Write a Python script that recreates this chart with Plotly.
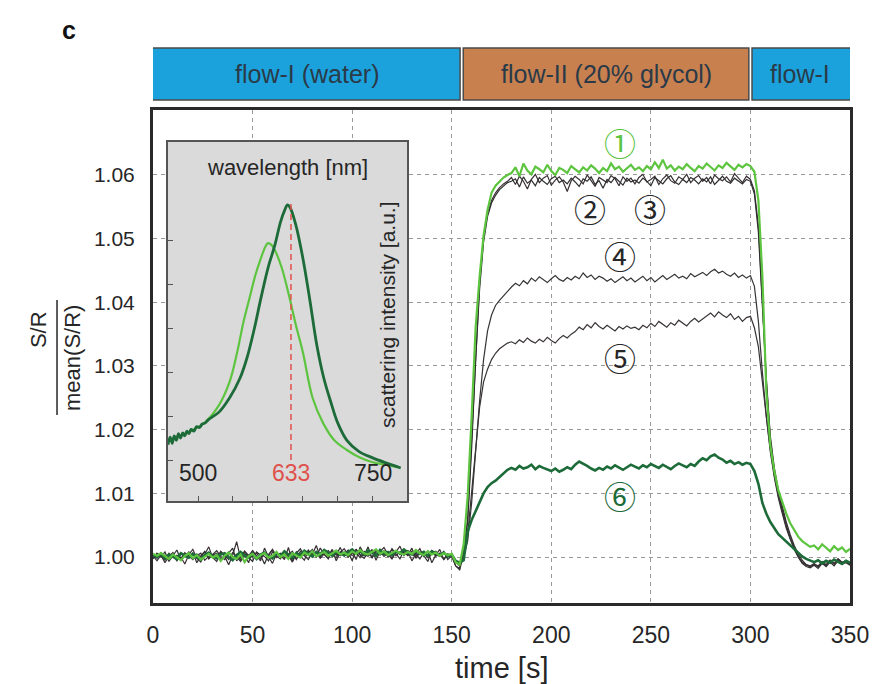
import plotly.graph_objects as go

# ---------------------------------------------------------------------------
# Time traces: normalised signal S/R / mean(S/R), sampled every 2 s.
# Each series is stored as (value - 1) x 1e4.
# ---------------------------------------------------------------------------
TIME_S = list(range(0, 352, 2))

SERIES_1 = [  # light green
    5, 2, 6, 1, -3, 4, 0, -5, 2, 6, -2, 3, -4, 1, 5, -1,
    3, -6, 2, 7, 0, -3, 4, -8, 1, 5, -2, 3, 6, -1, 2, 8,
    0, 4, -3, 6, 2, -1, 7, 3, 9, 1, 5, 8, 2, 6, 10, 4,
    7, 3, 9, 5, 11, 6, 4, 8, 12, 5, 9, 3, 7, 10, 6, 4,
    8, 5, 11, 6, 3, 9, 4, 7, 2, 6, 3, 5, -8, -12,
    20, 95, 220, 360, 440, 505, 545, 572, 583, 590, 596, 600,
    603, 612, 598, 618, 607, 601, 613, 609, 604, 616, 606, 600, 611, 608, 603, 614,
    609, 604, 612, 607, 615, 610, 603, 611, 606, 618, 609, 613, 605, 610, 616, 608,
    612, 606, 614, 609, 620, 611, 624, 610, 615, 607, 613, 609, 617, 611, 606, 614,
    610, 618, 612, 607, 615, 611, 619, 613, 608, 616, 612, 617, 614,
    605, 560, 440, 260, 175, 135, 105, 85, 68, 53, 42, 32, 25, 20, 16,
    18, 12, 20, 14, 9, 17, 11, 15, 8, 13,
]

SERIES_2 = [
    2, -6, 3, -9, 1, 7, -4, 0, -11, 4, 12, -2, -8, 3, 16, -1,
    -7, 8, 1, -12, 3, 24, -2, 4, -9, 10, 2, -6, 14, 0, -10, 5,
    3, -4, 15, -7, 8, 1, -5, 10, 4, 18, -1, 8, 2, 12, -6, 7,
    13, 3, 10, -4, 16, 5, 1, 12, -5, 9, 15, 4, -3, 8, 17, 2,
    9, -6, 5, 13, 0, 10, -9, 3, 12, -4, 4, 1, -14, -18,
    10, 60, 180, 320, 430, 500, 540, 560, 572, 580, 586, 590,
    596, 585, 598, 590, 578, 593, 601, 588, 595, 599, 584, 592, 597, 589, 574, 591,
    598, 593, 586, 600, 590, 582, 596, 592, 588, 599, 594, 583, 597, 590, 595, 586,
    596, 601, 589, 593, 598, 585, 594, 600, 591, 587, 597, 593, 601, 588, 595, 599,
    590, 596, 586, 600, 594, 591, 597, 589, 602, 595, 588, 598, 593,
    575, 520, 400, 280, 190, 140, 105, 80, 55, 35, 18, 5, -5, -12, -14,
    -10, -16, -8, -13, -5, -11, -3, -9, -6, -12,
]

SERIES_3 = [
    -3, 6, 0, 8, -7, 2, 11, -5, 3, -1, 7, -9, 2, 9, -3, 4,
    10, 1, -4, 6, 14, -6, 2, 9, -1, -7, 8, 3, -11, 4, 12, 1,
    -3, 9, 3, -8, 6, 13, 2, -4, 8, 0, 14, 4, -3, 10, 3, 15,
    1, 8, -6, 12, 4, 2, 16, -2, 9, 3, 10, 0, 13, 5, -3, 11,
    3, 14, -2, 7, 2, -7, 10, 4, 1, 9, -4, 2, -14, -20,
    5, 55, 170, 310, 420, 495, 535, 556, 568, 577, 583, 588,
    590, 594, 581, 597, 587, 592, 583, 596, 590, 585, 594, 598, 588, 592, 586, 595,
    589, 582, 594, 590, 597, 585, 591, 579, 593, 588, 596, 590, 584, 595, 589, 592,
    587, 595, 590, 583, 596, 591, 586, 594, 599, 589, 585, 593, 588, 596, 592, 586,
    594, 589, 597, 585, 592, 598, 590, 587, 595, 591, 586, 593, 590,
    570, 510, 395, 275, 185, 135, 100, 74, 50, 30, 14, 0, -10, -15, -17,
    -13, -18, -10, -15, -8, -14, -6, -11, -9, -13,
]

SERIES_4 = [
    4, -2, 7, 1, -4, 3, -6, 5, 0, 8, -3, 2, 6, -5, 1, 4,
    -2, 9, 3, -4, 7, 0, -7, 5, 2, 10, -3, 4, 1, -6, 8, 3,
    6, -1, 4, 9, -3, 5, 2, 11, 0, 7, -2, 5, 10, 3, -1, 8,
    4, 11, 2, 7, -1, 9, 5, 0, 12, 6, 3, 8, -2, 10, 4, 7,
    2, 9, 5, -3, 7, 3, 10, 1, 6, -4, 5, 2, -8, -14,
    0, 25, 85, 170, 245, 310, 355, 380, 395, 403, 410, 418,
    424, 430, 426, 434, 429, 438, 433, 440, 435, 431, 437, 442, 436, 433, 439, 435,
    441, 437, 446, 439, 443, 436, 441, 438, 433, 437, 431, 435, 440, 434, 438, 432,
    436, 441, 434, 439, 432, 437, 442, 436, 440, 444, 438, 441, 437, 445, 440, 443,
    447, 442, 448, 452, 446, 449, 444, 441, 446, 439, 443, 438, 442,
    425, 370, 290, 220, 168, 128, 96, 70, 48, 30, 14, 2, -8, -12, -15,
    -11, -14, -7, -12, -5, -10, -3, -8, -6, -10,
]

SERIES_5 = [
    -1, 5, 2, -5, 6, 0, 3, -3, 7, 1, -4, 5, 0, 8, -2, 3,
    6, -3, 2, 8, -1, 4, -5, 9, 3, 0, 7, -3, 5, 2, 11, -1,
    4, 8, 0, 5, -4, 9, 3, 6, 12, 1, 7, 4, -1, 10, 5, 2,
    8, 0, 6, 12, 3, -2, 7, 10, 4, 9, 1, 6, 11, 2, 8, 5,
    10, 4, 1, 8, 6, -1, 5, 9, 2, 7, 0, 3, -6, -10,
    5, 35, 100, 175, 235, 275, 295, 310, 320, 327, 332, 336,
    338, 335, 341, 337, 344, 339, 336, 342, 338, 345, 340, 336, 343, 348, 344, 350,
    354, 361, 357, 365, 360, 368, 362, 358, 364, 360, 355, 362, 358, 363, 359, 361,
    357, 364, 360, 367, 362, 370, 365, 361, 368, 364, 372, 367, 363, 370, 375, 369,
    374, 379, 383, 377, 385, 380, 376, 382, 373, 378, 370, 376, 378,
    360, 330, 275, 215, 165, 125, 93, 68, 45, 28, 12, 0, -9, -13, -15,
    -12, -15, -8, -13, -6, -11, -4, -9, -7, -11,
]

SERIES_6 = [  # dark green
    3, 0, 5, -2, 4, 1, -3, 6, 2, -1, 5, 0, -4, 3, 7, 1,
    -2, 4, 6, 0, -5, 3, 8, 2, -1, 5, -3, 4, 7, 1, -2, 6,
    2, 9, 4, -1, 6, 3, 10, 5, 1, 8, 4, 11, 6, 2, 9, 5,
    3, 8, 12, 6, 9, 4, 10, 7, 2, 11, 5, 8, 3, 9, 6, 12,
    7, 4, 10, 5, 8, 2, 9, 6, 3, 7, 1, 4, -6, -9,
    -5, 40, 58, 72, 85, 100, 110, 116, 120, 126, 132, 137,
    140, 137, 143, 139, 141, 145, 138, 143, 140, 137, 135, 139, 134, 137, 141, 138,
    145, 150, 147, 143, 139, 136, 140, 137, 142, 139, 144, 140, 137, 141, 145, 142,
    139, 144, 141, 146, 143, 140, 145, 142, 138, 143, 147, 144, 141, 146, 143, 150,
    155, 152, 158, 161, 156, 153, 148, 151, 146, 149, 145, 148, 146,
    135, 115, 85, 68, 55, 45, 36, 30, 24, 18, 12, 6, 1, -3, -6,
    -8, -5, -10, -6, -9, -4, -8, -11, -6, -9,
]

SERIES_LABELS = ["①", "②", "③", "④", "⑤", "⑥"]

# Flow phases shown in the banner above the plot
PHASE_NAMES = ["flow-I (water)", "flow-II (20% glycol)", "flow-I"]
PHASE_START = [0, 155, 300]
PHASE_END = [155, 300, 350]

Y_TICKS = [1.00, 1.01, 1.02, 1.03, 1.04, 1.05, 1.06]
X_TICKS = [0, 50, 100, 150, 200, 250, 300, 350]

# ---------------------------------------------------------------------------
# Inset: scattering spectra
# ---------------------------------------------------------------------------
SPEC_DARK_NM = [457, 460, 463, 466, 469, 472, 475, 478, 481, 484, 487, 490, 494, 498,
                502, 506, 510, 515, 530, 545, 560, 570, 580, 590, 600, 610, 618, 624,
                628, 632, 640, 650, 660, 670, 680, 690, 700, 713, 730, 750, 770, 790]
SPEC_DARK_I = [0.35, 0.52, 0.38, 0.55, 0.45, 0.60, 0.50, 0.62, 0.55, 0.66, 0.60, 0.70,
               0.66, 0.76, 0.74, 0.82, 0.84, 0.92, 1.09, 1.41, 1.86, 2.32, 2.95, 3.68,
               4.36, 4.89, 5.41, 5.68, 5.80, 5.73, 5.34, 4.59, 3.64, 2.61, 1.86, 1.32,
               0.84, 0.45, 0.20, 0.05, -0.07, -0.18]

SPEC_LIGHT_NM = [457, 470, 490, 510, 530, 545, 556, 565, 574, 582, 590, 596, 600, 605,
                 610, 620, 630, 640, 650, 664, 679, 695, 713, 730, 750, 770, 785]
SPEC_LIGHT_I = [0.45, 0.52, 0.66, 0.86, 1.25, 1.77, 2.45, 3.14, 3.70, 4.20, 4.59, 4.84,
                4.93, 4.89, 4.77, 4.36, 3.75, 3.07, 2.45, 1.41, 0.84, 0.45, 0.23, 0.07,
                -0.05, -0.11, -0.16]

LASER_NM = 633
SPEC_TICK_LABELS = [500, 633, 750]
INSET_X_RANGE = [457, 799]
INSET_Y_RANGE = [-0.93, 7.23]

# ---------------------------------------------------------------------------
FONT = "Liberation Sans, Arial, sans-serif"
CJK = "Noto Sans CJK JP"
BLUE = "#1ba2dd"
ORANGE = "#c9804f"
LIGHT_GREEN = "#5cc43e"
DARK_GREEN = "#1d6b39"
RED = "#e0514b"
DARK_COLORS = ["#3a2f36", "#2e2e2e", "#353535", "#383335"]
TEXT = "#262626"


def to_ratio(series):
    return [1 + v / 1e4 for v in series]


def label(**kw):
    base = dict(showarrow=False, xanchor="center", yanchor="middle")
    base.update(kw)
    return base


fig = go.Figure()

dark_series = [SERIES_2, SERIES_3, SERIES_4, SERIES_5]
for s, c in zip(dark_series, DARK_COLORS):
    fig.add_trace(go.Scatter(x=TIME_S, y=to_ratio(s), mode="lines",
                             line=dict(color=c, width=1.2), showlegend=False))
fig.add_trace(go.Scatter(x=TIME_S, y=to_ratio(SERIES_6), mode="lines",
                         line=dict(color=DARK_GREEN, width=2.6), showlegend=False))
fig.add_trace(go.Scatter(x=TIME_S, y=to_ratio(SERIES_1), mode="lines",
                         line=dict(color=LIGHT_GREEN, width=2.2), showlegend=False))

# inset panel: opaque grey background, then the two spectra
x0, x1 = INSET_X_RANGE
y0, y1 = INSET_Y_RANGE
fig.add_trace(go.Scatter(x=[x0, x1, x1, x0, x0], y=[y0, y0, y1, y1, y0], mode="lines",
                         fill="toself", fillcolor="#dadada", line=dict(width=0),
                         xaxis="x2", yaxis="y2", hoverinfo="skip", showlegend=False))
fig.add_trace(go.Scatter(x=SPEC_LIGHT_NM, y=SPEC_LIGHT_I, mode="lines",
                         line=dict(color=LIGHT_GREEN, width=2.2, shape="spline"),
                         xaxis="x2", yaxis="y2", showlegend=False))
fig.add_trace(go.Scatter(x=SPEC_DARK_NM, y=SPEC_DARK_I, mode="lines",
                         line=dict(color=DARK_GREEN, width=2.8, shape="spline"),
                         xaxis="x2", yaxis="y2", showlegend=False))

shapes = []
annotations = []

# banner with flow phases
for name, p0, p1, col in zip(PHASE_NAMES, PHASE_START, PHASE_END, [BLUE, ORANGE, BLUE]):
    shapes.append(dict(type="rect", xref="x", yref="paper",
                       x0=p0 + (0.8 if p0 > 0 else -0.5), x1=p1 - (0.8 if p1 < 350 else -0.5),
                       y0=1.0203, y1=1.1258, fillcolor=col,
                       line=dict(color="#4a4a4a", width=1.5), layer="above"))
    annotations.append(label(x=(p0 + p1) / 2, y=1.073, xref="x", yref="paper", text=name,
                             font=dict(family=FONT, size=25, color="#2a3a48")))

# laser wavelength marker in the inset
shapes.append(dict(type="line", xref="x2", yref="y2", x0=LASER_NM, x1=LASER_NM, y0=0, y1=5.9,
                   line=dict(color=RED, width=1.5, dash="6px,4px")))

# y-axis title as a stacked fraction
shapes.append(dict(type="line", xref="paper", yref="paper", x0=-0.1377, x1=-0.1377,
                   y0=0.3813, y1=0.6146, line=dict(color=TEXT, width=1.5)))
annotations.append(label(x=-0.164, y=0.555, xref="paper", yref="paper", text="S/R",
                         textangle=-90, font=dict(family=FONT, size=22, color=TEXT)))
annotations.append(label(x=-0.1148, y=0.497, xref="paper", yref="paper", text="mean(S/R)",
                         textangle=-90, font=dict(family=FONT, size=22, color=TEXT)))

annotations.append(label(x=0.5, y=-0.131, xref="paper", yref="paper", text="time [s]",
                         font=dict(family=FONT, size=29, color=TEXT)))
annotations.append(label(x=-0.120, y=1.162, xref="paper", yref="paper", text="<b>c</b>",
                         font=dict(family=FONT, size=25, color="#111")))

# circled series labels
label_pos = [(234.5, 1.0652), (219.4, 1.0548), (249.6, 1.0548),
             (234.5, 1.0474), (234.5, 1.0314), (234.5, 1.0097)]
label_col = [LIGHT_GREEN, TEXT, TEXT, TEXT, TEXT, DARK_GREEN]
for lab, (lx, ly), lc in zip(SERIES_LABELS, label_pos, label_col):
    annotations.append(label(x=lx, y=ly, xref="x", yref="y", text=lab,
                             font=dict(family=CJK, size=32, color=lc)))

# inset texts
annotations.append(label(x=0.5, y=0.93, xref="x2 domain", yref="y2 domain",
                         text="wavelength [nm]", font=dict(family=FONT, size=22, color=TEXT)))
annotations.append(label(x=0.916, y=0.518, xref="x2 domain", yref="y2 domain",
                         text="scattering intensity [a.u.]", textangle=-90,
                         font=dict(family=FONT, size=21, color=TEXT)))
for wl in SPEC_TICK_LABELS:
    annotations.append(label(x=wl, y=0.078, xref="x2", yref="y2 domain", text=str(wl),
                             font=dict(family=FONT, size=23,
                                       color=RED if wl == LASER_NM else TEXT)))

axis_common = dict(showline=True, mirror=True, linecolor="#2a2a2a", linewidth=3,
                   showgrid=True, gridcolor="#9a9a9a", gridwidth=1, griddash="4px,4px",
                   zeroline=False, ticks="")

fig.update_layout(
    width=895, height=684,
    margin=dict(l=153, r=45, t=110, b=81),
    paper_bgcolor="white", plot_bgcolor="white",
    showlegend=False,
    xaxis=dict(axis_common, range=[0, 350], tickvals=X_TICKS, ticklabelstandoff=9,
               tickfont=dict(family=FONT, size=23, color=TEXT)),
    yaxis=dict(axis_common, range=[0.99278, 1.0702], tickvals=Y_TICKS, tickformat=".2f",
               ticklabelstandoff=11, tickfont=dict(family=FONT, size=21, color=TEXT)),
    xaxis2=dict(domain=[0.0215, 0.3644], anchor="y2", range=INSET_X_RANGE,
                showline=True, mirror=True, linecolor="#555", linewidth=1.5,
                showgrid=False, zeroline=False, ticks="inside", ticklen=5,
                tickcolor="#555", tickvals=[500, 550, 600, 650, 700, 750],
                showticklabels=False),
    yaxis2=dict(domain=[0.2069, 0.9351], anchor="x2", range=INSET_Y_RANGE,
                showline=True, mirror=True, linecolor="#555", linewidth=1.5,
                showgrid=False, zeroline=False, ticks="inside", ticklen=5,
                tickcolor="#555", tickvals=[0, 1, 2, 3, 4, 5], showticklabels=False),
    shapes=shapes,
    annotations=annotations,
)

fig.write_html("out.html")
